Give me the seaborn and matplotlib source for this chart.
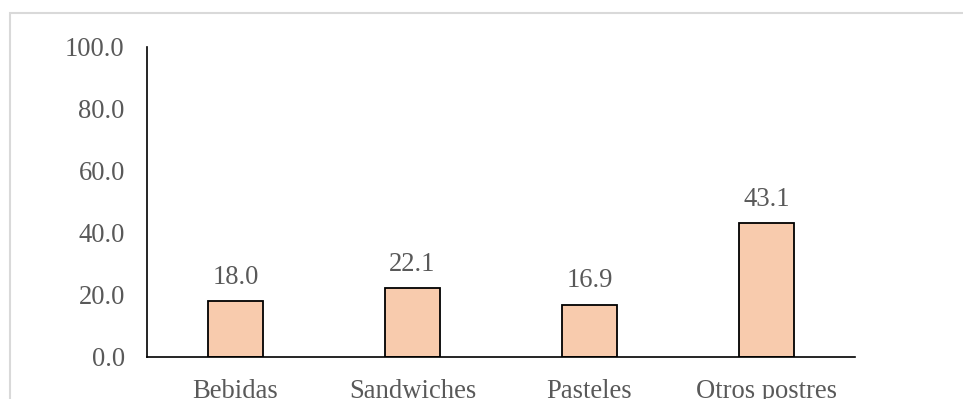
import matplotlib
matplotlib.use("Agg")
import matplotlib.pyplot as plt
from matplotlib.patches import Rectangle
import seaborn as sns
import pandas as pd

categories = ["Bebidas", "Sandwiches", "Pasteles", "Otros postres"]
values = [18.0, 22.1, 16.9, 43.1]
yticks = [0, 20, 40, 60, 80, 100]

sns.set_theme(style="white")
plt.rcParams["font.family"] = ["Liberation Serif", "DejaVu Serif"]

df = pd.DataFrame({"categoria": categories, "valor": values})

fig = plt.figure(figsize=(9.63, 3.99), dpi=100)
ax = fig.add_axes([147 / 963, 1 - 357 / 399, (855 - 147) / 963, (357 - 47) / 399])

# light frame around the chart area
fig.patches.append(Rectangle((10 / 963, -0.2), 1.2, 1 - 13 / 399 + 0.2,
                             transform=fig.transFigure, fill=False,
                             edgecolor="#d9d9d9", linewidth=1.5, zorder=0))

sns.barplot(data=df, x="categoria", y="valor", ax=ax, color="#F8CBAD",
            width=0.316, edgecolor="black", linewidth=1.3, saturation=1)

txt = "#595959"
fs = 19.2
for i, v in enumerate(values):
    ax.annotate(f"{v:.1f}", (i, v), xytext=(0, 8), textcoords="offset points",
                ha="center", va="bottom", fontsize=fs, color=txt)

ax.set_ylim(0, 100)
ax.set_xlim(-0.5, len(categories) - 0.5)
ax.set_yticks(yticks)
ax.set_yticklabels([f"{t:.1f}" for t in yticks])
ax.set_xlabel("")
ax.set_ylabel("")
ax.tick_params(axis="y", length=0, pad=16, labelsize=fs, labelcolor=txt)
ax.tick_params(axis="x", length=0, pad=16, labelsize=fs, labelcolor=txt)
for s in ["top", "right"]:
    ax.spines[s].set_visible(False)
for s in ["left", "bottom"]:
    ax.spines[s].set_color("black")
    ax.spines[s].set_linewidth(1.2)
ax.grid(False)

fig.savefig("out.png", dpi=100)
